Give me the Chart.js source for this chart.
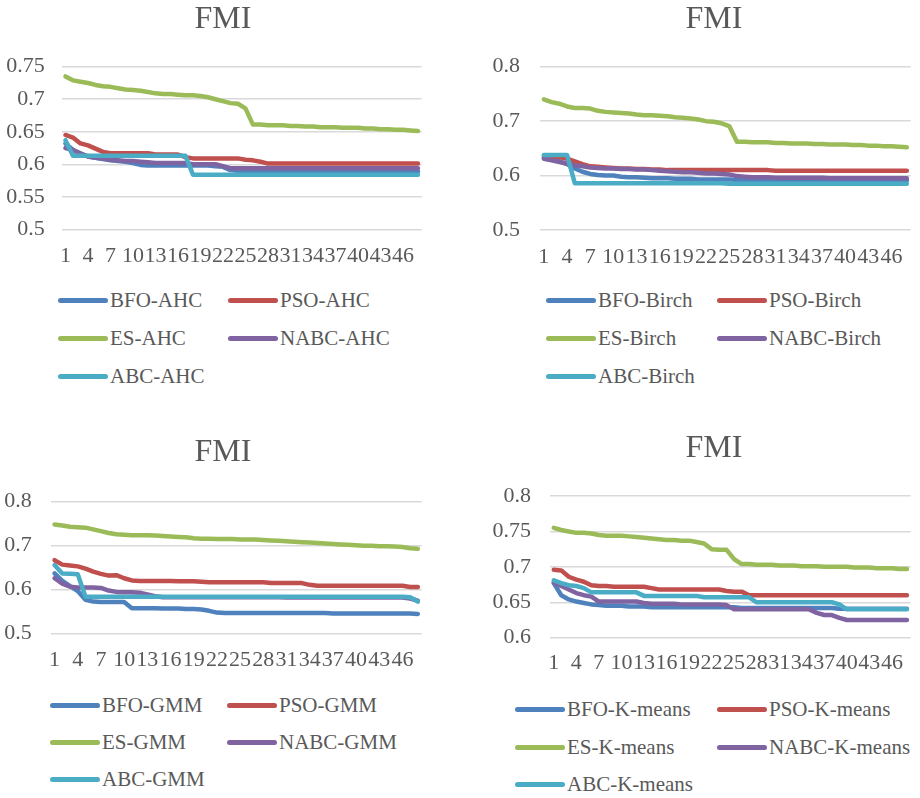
<!DOCTYPE html>
<html>
<head>
<meta charset="utf-8">
<script src="https://cdn.jsdelivr.net/npm/chart.js@4.4.1/dist/chart.umd.min.js"></script>
<style>
  html, body { margin: 0; padding: 0; background: #fff; }
  body { width: 920px; height: 798px; overflow: hidden; position: relative; font-family: "Liberation Serif", "Times New Roman", serif; color: #595959; }
  canvas { position: absolute; }
  .item { position: absolute; height: 24px; display: flex; align-items: center; font-size: 21px; white-space: nowrap; }
  .swatch { width: 50px; height: 5px; border-radius: 3px; margin-right: 2px; }
</style>
</head>
<body>
<canvas id="ahc" width="446" height="275" style="left:0;top:0"></canvas>
<canvas id="birch" width="508" height="275" style="left:460px;top:0"></canvas>
<canvas id="gmm" width="446" height="270" style="left:0;top:420px"></canvas>
<canvas id="kmeans" width="508" height="270" style="left:460px;top:420px"></canvas>

<script>
// iterations 1..48
const iterations = ["1","2","3","4","5","6","7","8","9","10","11","12","13","14","15","16",
  "17","18","19","20","21","22","23","24","25","26","27","28","29","30","31","32",
  "33","34","35","36","37","38","39","40","41","42","43","44","45","46","47","48"];

const methods = ["BFO", "PSO", "ES", "NABC", "ABC"];

// AHC
const ahcBFO = [0.632,0.622,0.616,0.612,0.610,0.608,0.606,0.605,0.604,0.602,
  0.599,0.598,0.598,0.598,0.598,0.598,0.598,0.598,0.598,0.598,
  0.597,0.596,0.591,0.590,0.590,0.590,0.590,0.590,0.590,0.590,
  0.590,0.590,0.590,0.590,0.590,0.590,0.590,0.590,0.590,0.590,
  0.589,0.589,0.589,0.589,0.589,0.589,0.589,0.589];
const ahcPSO = [0.645,0.641,0.632,0.629,0.624,0.619,0.617,0.617,0.617,0.617,
  0.617,0.617,0.615,0.615,0.615,0.615,0.611,0.609,0.609,0.609,
  0.609,0.609,0.609,0.609,0.607,0.606,0.604,0.601,0.601,0.601,
  0.601,0.601,0.601,0.601,0.601,0.601,0.601,0.601,0.601,0.601,
  0.601,0.601,0.601,0.601,0.601,0.601,0.601,0.601];
const ahcES = [0.735,0.729,0.727,0.725,0.722,0.720,0.719,0.717,0.715,0.714,
  0.713,0.711,0.709,0.708,0.708,0.707,0.706,0.706,0.705,0.703,
  0.700,0.697,0.694,0.693,0.686,0.661,0.661,0.660,0.660,0.660,
  0.659,0.659,0.658,0.658,0.657,0.657,0.657,0.656,0.656,0.656,
  0.655,0.655,0.654,0.654,0.653,0.653,0.652,0.651];
const ahcNABC = [0.625,0.622,0.617,0.612,0.610,0.609,0.607,0.606,0.605,0.605,
  0.604,0.603,0.602,0.602,0.602,0.602,0.602,0.600,0.600,0.600,
  0.600,0.597,0.594,0.594,0.594,0.594,0.594,0.594,0.594,0.594,
  0.594,0.594,0.594,0.594,0.594,0.594,0.594,0.594,0.594,0.594,
  0.594,0.594,0.594,0.594,0.594,0.594,0.594,0.594];
const ahcABC = [0.637,0.613,0.613,0.613,0.613,0.613,0.613,0.613,0.613,0.613,
  0.613,0.613,0.613,0.613,0.613,0.613,0.613,0.584,0.584,0.584,
  0.584,0.584,0.584,0.584,0.584,0.584,0.584,0.584,0.584,0.584,
  0.584,0.584,0.584,0.584,0.584,0.584,0.584,0.584,0.584,0.584,
  0.584,0.584,0.584,0.584,0.584,0.584,0.584,0.584];

// Birch
const birchBFO = [0.633,0.630,0.626,0.621,0.613,0.607,0.603,0.601,0.600,0.600,
  0.598,0.597,0.597,0.596,0.595,0.595,0.595,0.594,0.594,0.594,
  0.593,0.593,0.593,0.593,0.593,0.592,0.592,0.592,0.592,0.592,
  0.591,0.591,0.591,0.591,0.591,0.591,0.591,0.591,0.591,0.591,
  0.591,0.591,0.591,0.591,0.591,0.591,0.591,0.591];
const birchPSO = [0.636,0.635,0.634,0.631,0.626,0.621,0.617,0.616,0.615,0.614,
  0.613,0.613,0.612,0.612,0.611,0.611,0.610,0.610,0.610,0.610,
  0.610,0.610,0.610,0.610,0.610,0.610,0.610,0.610,0.610,0.610,
  0.609,0.609,0.609,0.609,0.609,0.609,0.609,0.609,0.609,0.609,
  0.609,0.609,0.609,0.609,0.609,0.609,0.609,0.609];
const birchES = [0.740,0.735,0.732,0.727,0.724,0.724,0.723,0.719,0.717,0.716,
  0.715,0.714,0.712,0.711,0.711,0.710,0.709,0.707,0.706,0.705,
  0.703,0.700,0.699,0.696,0.691,0.662,0.662,0.661,0.661,0.661,
  0.660,0.660,0.659,0.659,0.659,0.658,0.658,0.657,0.657,0.657,
  0.656,0.656,0.655,0.655,0.654,0.654,0.653,0.652];
const birchNABC = [0.631,0.628,0.625,0.622,0.619,0.617,0.615,0.614,0.613,0.613,
  0.612,0.612,0.611,0.611,0.610,0.609,0.608,0.607,0.606,0.606,
  0.605,0.604,0.604,0.603,0.602,0.599,0.598,0.597,0.597,0.597,
  0.596,0.596,0.596,0.596,0.596,0.596,0.596,0.595,0.595,0.595,
  0.595,0.595,0.595,0.595,0.595,0.595,0.595,0.595];
const birchABC = [0.638,0.638,0.638,0.638,0.586,0.586,0.586,0.586,0.586,0.586,
  0.586,0.586,0.586,0.586,0.586,0.586,0.586,0.586,0.586,0.586,
  0.586,0.586,0.586,0.586,0.585,0.585,0.585,0.585,0.585,0.585,
  0.585,0.585,0.585,0.585,0.585,0.585,0.585,0.585,0.585,0.585,
  0.585,0.585,0.585,0.585,0.585,0.585,0.585,0.585];

// GMM
const gmmBFO = [0.637,0.620,0.608,0.597,0.577,0.573,0.572,0.572,0.572,0.572,
  0.558,0.558,0.558,0.558,0.557,0.557,0.557,0.556,0.556,0.555,
  0.552,0.548,0.547,0.547,0.547,0.547,0.547,0.547,0.547,0.547,
  0.547,0.547,0.547,0.547,0.547,0.547,0.546,0.546,0.546,0.546,
  0.546,0.546,0.546,0.546,0.546,0.546,0.546,0.545];
const gmmPSO = [0.667,0.657,0.655,0.653,0.648,0.641,0.636,0.632,0.633,0.626,
  0.621,0.620,0.620,0.620,0.620,0.620,0.619,0.619,0.619,0.618,
  0.617,0.617,0.617,0.617,0.617,0.617,0.617,0.617,0.615,0.615,
  0.615,0.615,0.615,0.611,0.609,0.609,0.609,0.609,0.609,0.609,
  0.609,0.609,0.609,0.609,0.609,0.609,0.606,0.606];
const gmmES = [0.748,0.746,0.743,0.742,0.741,0.737,0.733,0.729,0.726,0.725,
  0.724,0.724,0.724,0.723,0.722,0.721,0.720,0.719,0.717,0.716,
  0.716,0.715,0.715,0.715,0.714,0.714,0.714,0.713,0.712,0.711,
  0.710,0.709,0.708,0.707,0.706,0.705,0.704,0.703,0.702,0.701,
  0.700,0.700,0.699,0.699,0.698,0.697,0.694,0.693];
const gmmNABC = [0.626,0.614,0.607,0.605,0.605,0.605,0.604,0.598,0.595,0.594,
  0.594,0.593,0.589,0.585,0.583,0.583,0.583,0.583,0.583,0.583,
  0.583,0.583,0.583,0.583,0.583,0.583,0.583,0.583,0.583,0.583,
  0.582,0.582,0.582,0.582,0.582,0.582,0.582,0.582,0.582,0.582,
  0.582,0.582,0.582,0.582,0.582,0.582,0.580,0.575];
const gmmABC = [0.656,0.637,0.636,0.635,0.584,0.584,0.584,0.584,0.584,0.584,
  0.584,0.584,0.584,0.584,0.584,0.584,0.584,0.584,0.584,0.584,
  0.584,0.584,0.584,0.584,0.584,0.584,0.584,0.584,0.584,0.584,
  0.584,0.584,0.584,0.584,0.584,0.584,0.584,0.584,0.584,0.584,
  0.584,0.584,0.584,0.584,0.584,0.584,0.583,0.573];

// K-means
const kmBFO = [0.677,0.660,0.654,0.651,0.649,0.647,0.646,0.645,0.645,0.645,
  0.644,0.644,0.644,0.643,0.643,0.643,0.643,0.643,0.643,0.643,
  0.643,0.643,0.643,0.643,0.643,0.642,0.642,0.642,0.642,0.642,
  0.642,0.642,0.642,0.642,0.642,0.642,0.642,0.642,0.641,0.641,
  0.641,0.641,0.641,0.641,0.641,0.641,0.641,0.641];
const kmPSO = [0.696,0.695,0.686,0.682,0.679,0.674,0.673,0.673,0.672,0.672,
  0.672,0.672,0.672,0.670,0.668,0.668,0.668,0.668,0.668,0.668,
  0.668,0.668,0.668,0.666,0.665,0.665,0.660,0.660,0.660,0.660,
  0.660,0.660,0.660,0.660,0.660,0.660,0.660,0.660,0.660,0.660,
  0.660,0.660,0.660,0.660,0.660,0.660,0.660,0.660];
const kmES = [0.755,0.752,0.750,0.748,0.748,0.747,0.745,0.744,0.744,0.744,
  0.743,0.742,0.741,0.740,0.739,0.738,0.738,0.737,0.737,0.735,
  0.733,0.725,0.724,0.724,0.711,0.704,0.704,0.703,0.703,0.703,
  0.702,0.702,0.702,0.701,0.701,0.701,0.700,0.700,0.700,0.700,
  0.699,0.699,0.699,0.698,0.698,0.698,0.697,0.697];
const kmNABC = [0.678,0.673,0.668,0.663,0.660,0.658,0.651,0.651,0.651,0.651,
  0.651,0.651,0.649,0.648,0.648,0.648,0.648,0.647,0.647,0.647,
  0.647,0.647,0.647,0.646,0.640,0.640,0.640,0.640,0.640,0.640,
  0.640,0.640,0.640,0.640,0.640,0.635,0.632,0.632,0.628,0.625,
  0.625,0.625,0.625,0.625,0.625,0.625,0.625,0.625];
const kmABC = [0.681,0.677,0.674,0.673,0.670,0.664,0.664,0.664,0.664,0.664,
  0.664,0.664,0.659,0.659,0.659,0.659,0.659,0.659,0.659,0.659,
  0.657,0.657,0.657,0.657,0.657,0.657,0.657,0.650,0.650,0.650,
  0.650,0.650,0.650,0.650,0.650,0.650,0.650,0.650,0.647,0.640,
  0.640,0.640,0.640,0.640,0.640,0.640,0.640,0.640];

// y axis ticks per chart: min, max, step
const ahcTicks = [0.5, 0.75, 0.05];
const birchTicks = [0.5, 0.8, 0.1];
const gmmTicks = [0.5, 0.8, 0.1];
const kmTicks = [0.6, 0.8, 0.05];

const colors = ["#4F81BD", "#C0504D", "#9BBB59", "#8064A2", "#4BACC6"];
const FONT = "'Liberation Serif', 'Times New Roman', serif";
const GREY = "#595959";

function makeChart(id, suffix, series, ticks, box) {
  const datasets = series.map((s, k) => ({
    label: methods[k] + "-" + suffix,
    data: s,
    borderColor: colors[k],
    backgroundColor: colors[k],
    borderWidth: 4.5,
    borderCapStyle: "round",
    borderJoinStyle: "round",
    pointRadius: 0,
    tension: 0,
    order: series.length - k
  }));

  new Chart(document.getElementById(id), {
    type: "line",
    data: { labels: iterations, datasets },
    options: {
      responsive: false,
      animation: false,
      devicePixelRatio: 1,
      layout: { padding: 0 },
      plugins: {
        legend: { display: false },
        tooltip: { enabled: false },
        title: {
          display: true,
          text: "FMI",
          color: GREY,
          font: { family: FONT, size: 32, weight: "normal" },
          padding: { top: box.tTop, bottom: box.tBottom }
        }
      },
      scales: {
        x: {
          offset: true,
          grid: { display: false, drawTicks: false },
          border: { display: false },
          ticks: {
            autoSkip: false,
            maxRotation: 0,
            minRotation: 0,
            padding: box.xPad,
            color: GREY,
            font: { family: FONT, size: 22 },
            callback: (v, i) => (i % 3 === 0 ? iterations[i] : "")
          },
          afterFit: (s) => { s.height = box.xH; }
        },
        y: {
          min: ticks[0],
          max: ticks[1],
          grid: { color: "#D9D9D9", lineWidth: 1.5, drawTicks: false },
          border: { display: false },
          ticks: {
            stepSize: ticks[2],
            padding: box.yPad,
            color: GREY,
            font: { family: FONT, size: 22 },
            callback: (v) => String(Math.round(v * 100) / 100)
          },
          afterFit: (s) => { s.width = box.yW; }
        },
        // empty spacer on the right so the title stays centred on the whole canvas
        spacer: {
          type: "linear",
          position: "right",
          grid: { display: false, drawTicks: false },
          border: { display: false },
          ticks: { display: false },
          afterFit: (s) => { s.width = box.right; }
        }
      }
    }
  });
}

makeChart("ahc", "AHC", [ahcBFO, ahcPSO, ahcES, ahcNABC, ahcABC], ahcTicks,
  { yW: 61.7, xH: 45.7, tTop: 0, tBottom: 28.3, right: 24.3, yPad: 17, xPad: 14 });
makeChart("birch", "Birch", [birchBFO, birchPSO, birchES, birchNABC, birchABC], birchTicks,
  { yW: 80, xH: 45, tTop: 0, tBottom: 28.3, right: 57.3, yPad: 20, xPad: 14 });
makeChart("gmm", "GMM", [gmmBFO, gmmPSO, gmmES, gmmNABC, gmmABC], gmmTicks,
  { yW: 50.7, xH: 56.3, tTop: 13.8, tBottom: 29.5, right: 24.3, yPad: 19, xPad: 13 });
makeChart("kmeans", "K-means", [kmBFO, kmPSO, kmES, kmNABC, kmABC], kmTicks,
  { yW: 90, xH: 52.3, tTop: 9.8, tBottom: 27.8, right: 57.3, yPad: 19, xPad: 12 });

// legends: two columns, three rows
function makeLegend(suffix, cols, rows) {
  methods.forEach((m, k) => {
    const el = document.createElement("div");
    el.className = "item";
    el.style.left = cols[k % 2] + "px";
    el.style.top = (rows[Math.floor(k / 2)] - 12) + "px";
    const sw = document.createElement("div");
    sw.className = "swatch";
    sw.style.background = colors[k];
    el.appendChild(sw);
    el.appendChild(document.createTextNode(m + "-" + suffix));
    document.body.appendChild(el);
  });
}

makeLegend("AHC", [58, 228], [300, 338, 376]);
makeLegend("Birch", [546, 717], [300, 338, 376]);
makeLegend("GMM", [50, 227], [705, 742, 779]);
makeLegend("K-means", [515, 717], [709, 747, 784]);
</script>
</body>
</html>
